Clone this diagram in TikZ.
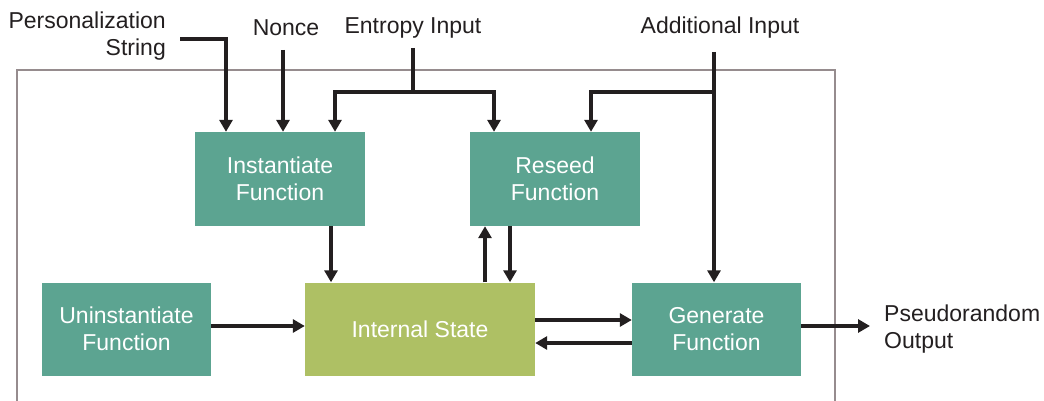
\documentclass[tikz,border=0pt]{standalone}
\usepackage{fontspec}
\setmainfont{Liberation Sans}
\usetikzlibrary{arrows.meta}
\definecolor{teal1}{HTML}{5CA491}
\definecolor{green1}{HTML}{AEC064}
\definecolor{frame1}{HTML}{968C8E}
\definecolor{ink}{HTML}{231F20}
\begin{document}
\begin{tikzpicture}[x=1pt,y=-1pt,
  font=\fontsize{23}{27.5}\selectfont,
  fbox/.style={fill=teal1,text=white,align=center,inner sep=0pt},
  sbox/.style={fill=green1,text=white,align=center,inner sep=0pt},
  lbl/.style={text=ink,inner sep=0pt},
  conn/.style={draw=ink,line width=3.3pt},
  arr/.style={conn,-{Triangle[width=13pt,length=12pt]}},
  framestyle/.style={draw=frame1,line width=2pt}]
\useasboundingbox (0,0) rectangle (1044,401);
% frame
\draw[framestyle] (17,402) -- (17,70) -- (835,70) -- (835,402);
% boxes
\node[fbox,minimum width=170pt,minimum height=94pt] (inst) at (280,179) {Instantiate\\Function};
\node[fbox,minimum width=170pt,minimum height=94pt] (rese) at (555,179) {Reseed\\Function};
\node[fbox,minimum width=169pt,minimum height=93pt] (unin) at (126.5,329) {Uninstantiate\\Function};
\node[sbox,minimum width=230pt,minimum height=93pt] (int) at (420,329) {Internal State};
\node[fbox,minimum width=169pt,minimum height=93pt] (gen) at (716.5,329) {Generate\\Function};
% labels
\node[lbl,align=right,anchor=east] (ps) at (166,36) {Personalization\\String};
\node[lbl] (nonce) at (286,28) {Nonce};
\node[lbl] (ent) at (413,28) {Entropy Input};
\node[lbl] (add) at (720,28) {Additional Input};
\node[lbl,align=left,anchor=west] (pro) at (884,329) {Pseudorandom\\Output};
% coordinates
\coordinate (pstart) at (180,39);
\coordinate (pcorner) at (226,39);
\coordinate (nstart) at (283,50);
\coordinate (estart) at (413,48);
\coordinate (ejoin) at (413,92);
\coordinate (eleft) at (335,92);
\coordinate (eright) at (494,92);
\coordinate (astart) at (714,52);
\coordinate (ajoin) at (714,92);
\coordinate (aleft) at (591,92);
\coordinate (c1) at (331,0);
\coordinate (cup) at (485,0);
\coordinate (cdown) at (510,0);
\coordinate (yu) at (0,326);
\coordinate (yr) at (0,320);
\coordinate (yl) at (0,343);
\coordinate (pout) at (870,326);
% connectors
\draw[arr] (pstart) -- (pcorner) -- (pcorner |- inst.north);
\draw[arr] (nstart) -- (nstart |- inst.north);
\draw[conn] (estart) -- (ejoin);
\draw[arr] (ejoin) -- (eleft) -- (eleft |- inst.north);
\draw[arr] (ejoin) -- (eright) -- (eright |- rese.north);
\draw[arr] (astart) -- (astart |- gen.north);
\draw[arr] (ajoin) -- (aleft) -- (aleft |- rese.north);
\draw[arr] (c1 |- inst.south) -- (c1 |- int.north);
\draw[arr] (cup |- int.north) -- (cup |- rese.south);
\draw[arr] (cdown |- rese.south) -- (cdown |- int.north);
\draw[arr] (unin.east |- yu) -- (int.west |- yu);
\draw[arr] (int.east |- yr) -- (gen.west |- yr);
\draw[arr] (gen.west |- yl) -- (int.east |- yl);
\draw[arr] (gen.east |- pout) -- (pout);
\end{tikzpicture}
\end{document}
